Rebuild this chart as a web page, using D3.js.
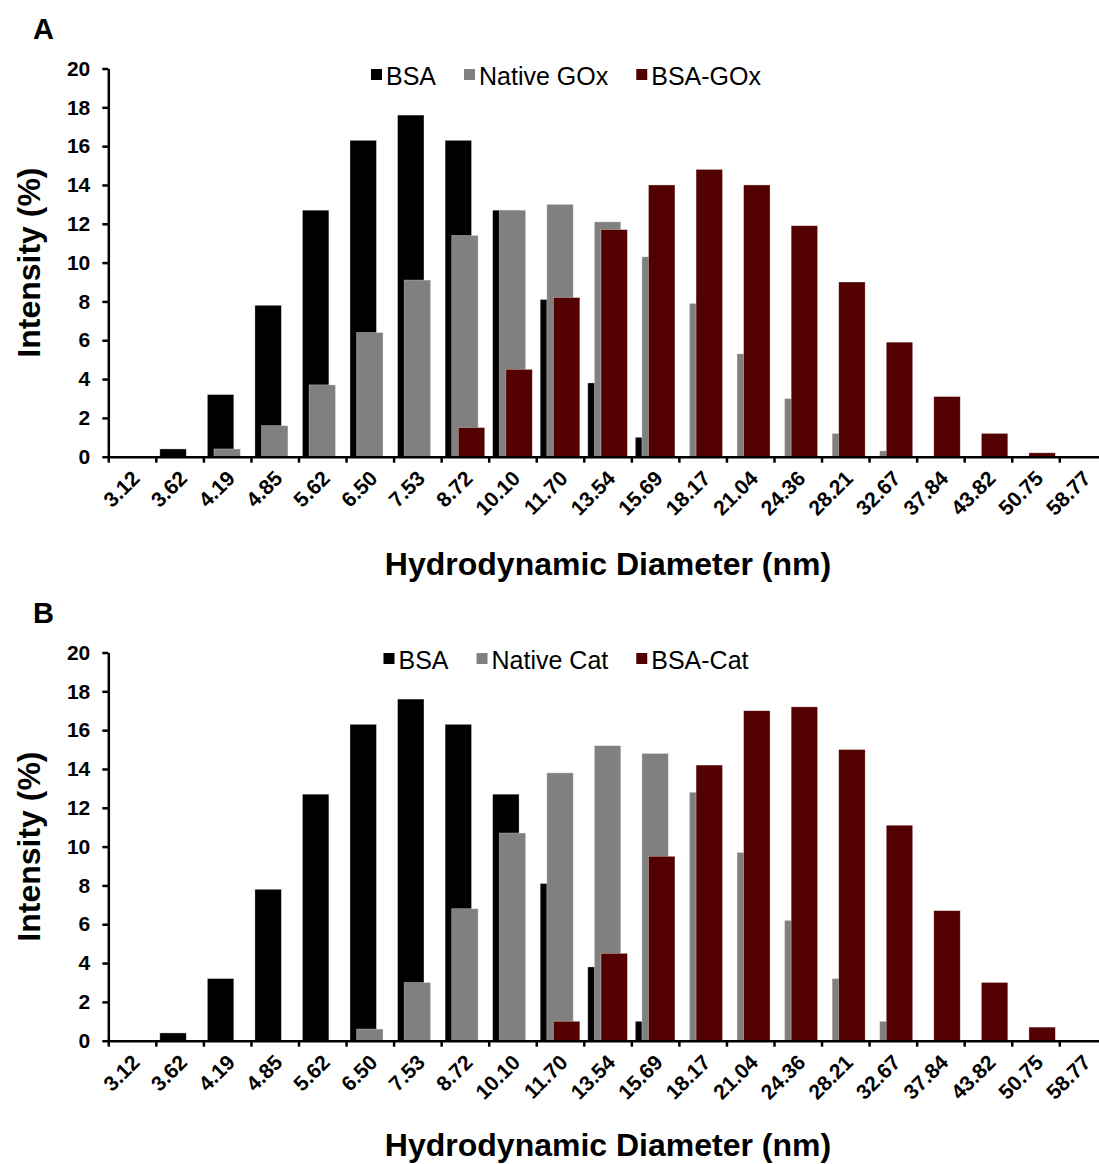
<!DOCTYPE html>
<html>
<head>
<meta charset="utf-8">
<script src="https://cdn.jsdelivr.net/npm/d3@7"></script>
<style>
  html, body { margin: 0; padding: 0; background: #fff; }
  svg { display: block; font-family: "Liberation Sans", Arial, Helvetica, sans-serif; }
</style>
</head>
<body>
<svg id="chart" width="1099" height="1164"></svg>
<script>
// Size bins (nm)
const categories = ["3.12", "3.62", "4.19", "4.85", "5.62", "6.50", "7.53", "8.72", "10.10", "11.70",
  "13.54", "15.69", "18.17", "21.04", "24.36", "28.21", "32.67", "37.84", "43.82", "50.75", "58.77"];

// Intensity (%) per size bin
const bsa       = [0, 0.4, 3.2, 7.8, 12.7, 16.3, 17.6, 16.3, 12.7, 8.1, 3.8, 1.0, 0, 0, 0, 0, 0, 0, 0, 0, 0];
const nativeGOx = [0, 0, 0.4, 1.6, 3.7, 6.4, 9.1, 11.4, 12.7, 13.0, 12.1, 10.3, 7.9, 5.3, 3.0, 1.2, 0.3, 0, 0, 0, 0];
const bsaGOx    = [0, 0, 0, 0, 0, 0, 0, 1.5, 4.5, 8.2, 11.7, 14.0, 14.8, 14.0, 11.9, 9.0, 5.9, 3.1, 1.2, 0.2, 0];
const nativeCat = [0, 0, 0, 0, 0, 0.6, 3.0, 6.8, 10.7, 13.8, 15.2, 14.8, 12.8, 9.7, 6.2, 3.2, 1.0, 0, 0, 0, 0];
const bsaCat    = [0, 0, 0, 0, 0, 0, 0, 0, 0, 1.0, 4.5, 9.5, 14.2, 17.0, 17.2, 15.0, 11.1, 6.7, 3.0, 0.7, 0];

const yTicks = [0, 2, 4, 6, 8, 10, 12, 14, 16, 18, 20];

const panels = [
  { letter: "A", offset: 0, series: [
    { name: "BSA", values: bsa, color: "#000000" },
    { name: "Native GOx", values: nativeGOx, color: "#808080" },
    { name: "BSA-GOx", values: bsaGOx, color: "#520000" } ] },
  { letter: "B", offset: 584, series: [
    { name: "BSA", values: bsa, color: "#000000" },
    { name: "Native Cat", values: nativeCat, color: "#808080" },
    { name: "BSA-Cat", values: bsaCat, color: "#520000" } ] }
];

const svg = d3.select("#chart");
const H = +svg.attr("height");

const left = 108.3, step = 47.55;
const x = d3.scaleBand().domain(categories).range([left, left + step * categories.length]).padding(0);
const xEdges = d3.scaleLinear().domain([0, categories.length]).range(x.range());

// Excel-style clustered bars: 75% overlap, 30% gap width
const overlap = 0.75, gapWidth = 0.3;
const nSeries = 3;
const barW = x.bandwidth() / (nSeries - (nSeries - 1) * overlap + gapWidth);
const barStep = barW * (1 - overlap);
const barStart = barW * gapWidth / 2;

panels.forEach(p => {
  const g = svg.append("g").attr("transform", `translate(0,${p.offset})`);
  const y = d3.scaleLinear().domain([0, 20]).range([456.7, 68.5]);

  // panel letter
  g.append("text").attr("x", 33).attr("y", 39)
    .attr("font-size", 29).attr("font-weight", "bold").text(p.letter);

  // bars, drawn series by series so later series sit on top
  p.series.forEach((s, si) => {
    g.append("g").selectAll("rect")
      .data(s.values.map((v, i) => ({ cat: categories[i], v })).filter(d => d.v > 0))
      .join("rect")
      .attr("x", d => x(d.cat) + barStart + si * barStep)
      .attr("width", barW)
      .attr("y", d => y(d.v))
      .attr("height", d => y(0) - y(d.v))
      .attr("fill", s.color)
      .attr("stroke", "#ffffff").attr("stroke-opacity", 0.45).attr("stroke-width", 0.7);
  });

  // y axis
  const yAxis = g.append("g").attr("transform", `translate(${left},0)`)
    .call(d3.axisLeft(y).tickValues(yTicks).tickSize(6).tickSizeOuter(0).tickPadding(12));
  yAxis.select(".domain").attr("stroke", "#000").attr("stroke-width", 2.5);
  yAxis.selectAll(".tick line").attr("stroke", "#000").attr("stroke-width", 2.5);
  yAxis.selectAll(".tick text").attr("font-size", 21).attr("font-weight", "bold")
    .attr("fill", "#000").attr("font-family", "Liberation Sans, Arial, sans-serif");

  // x axis: ticks on category boundaries
  const xAxis = g.append("g").attr("transform", `translate(0,${y(0)})`)
    .call(d3.axisBottom(xEdges).tickValues(d3.range(categories.length + 1))
      .tickFormat("").tickSize(6).tickSizeOuter(0));
  xAxis.select(".domain").attr("stroke", "#000").attr("stroke-width", 2.5);
  xAxis.selectAll(".tick line").attr("stroke", "#000").attr("stroke-width", 2.5);

  // rotated category labels
  g.append("g").selectAll("text").data(categories).join("text")
    .attr("transform", d => `translate(${x(d) + x.bandwidth() / 2 + 9},${y(0) + 23}) rotate(-45)`)
    .attr("text-anchor", "end")
    .attr("font-size", 21).attr("font-weight", "bold")
    .text(d => d);

  // axis titles
  g.append("text").attr("transform", `translate(40,${(y(0) + y(20)) / 2}) rotate(-90)`)
    .attr("text-anchor", "middle").attr("font-size", 32).attr("font-weight", "bold")
    .text("Intensity (%)");
  g.append("text").attr("x", 608).attr("y", Math.min(575, H - 8 - p.offset))
    .attr("text-anchor", "middle").attr("font-size", 32).attr("font-weight", "bold")
    .text("Hydrodynamic Diameter (nm)");

  // legend, centred above the plot
  const leg = g.append("g");
  const items = leg.selectAll("g").data(p.series).join("g");
  items.append("rect").attr("width", 11).attr("height", 11).attr("y", -16)
    .attr("fill", d => d.color);
  items.append("text").attr("x", 15).attr("font-size", 25).text(d => d.name);
  const gap = 28;
  let cx = 0;
  items.each(function () {
    d3.select(this).attr("transform", `translate(${cx},0)`);
    cx += 15 + d3.select(this).select("text").node().getComputedTextLength() + gap;
  });
  const total = cx - gap;
  leg.attr("transform", `translate(${566 - total / 2},${85})`);
});
</script>
</body>
</html>
